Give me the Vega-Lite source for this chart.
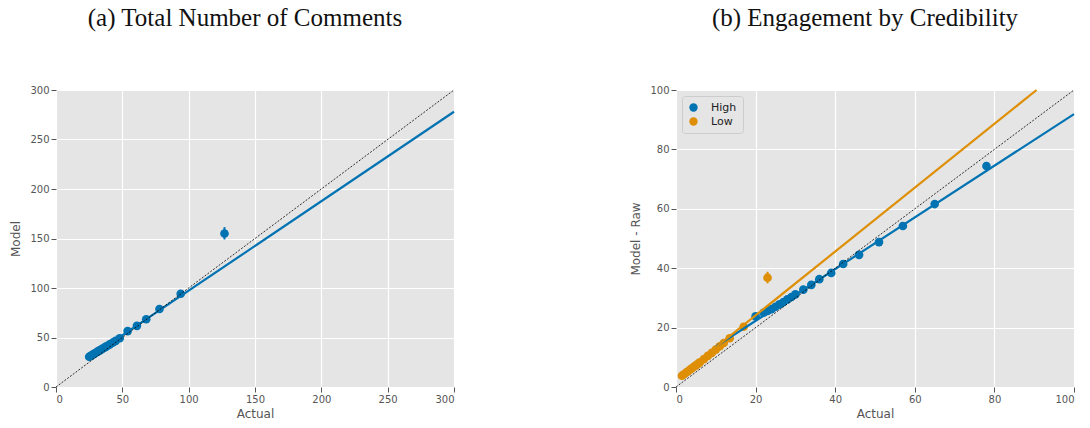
{
  "$schema": "https://vega.github.io/schema/vega-lite/v6.json",
  "padding": {"left": 9, "top": 6, "right": 0, "bottom": 0},
  "background": "white",
  "spacing": 170,
  "resolve": {"legend": {"color": "independent"}, "scale": {"color": "independent"}},
  "datasets": {
    "leftPts": [
      {"x": 25, "y": 30.5}, {"x": 26, "y": 31.3}, {"x": 27, "y": 32.1}, {"x": 28, "y": 33.0},
      {"x": 29, "y": 33.8}, {"x": 30, "y": 34.6}, {"x": 31, "y": 35.4}, {"x": 32, "y": 36.2},
      {"x": 33, "y": 37.0}, {"x": 34, "y": 37.8}, {"x": 35, "y": 38.6}, {"x": 36, "y": 39.4},
      {"x": 37, "y": 40.2}, {"x": 38, "y": 41.0}, {"x": 40, "y": 42.6}, {"x": 41, "y": 43.4},
      {"x": 43, "y": 45.0}, {"x": 45, "y": 46.6}, {"x": 48, "y": 49.2}, {"x": 54, "y": 56.5},
      {"x": 61, "y": 61.8}, {"x": 68, "y": 68.4}, {"x": 78, "y": 78.8}, {"x": 94, "y": 94.2},
      {"x": 127, "y": 155}
    ],
    "leftErr": [{"x": 127, "lo": 149, "hi": 161.5}],
    "leftFit": [{"x": 25, "y": 29.6}, {"x": 300, "y": 278}],
    "diagL": [{"x": 0, "y": 0}, {"x": 300, "y": 300}],
    "rightPts": [
      {"x": 20, "y": 23.8, "group": "High"}, {"x": 22, "y": 25.0, "group": "High"},
      {"x": 23, "y": 25.6, "group": "High"}, {"x": 24, "y": 26.2, "group": "High"},
      {"x": 25, "y": 27.0, "group": "High"}, {"x": 26, "y": 27.8, "group": "High"},
      {"x": 27, "y": 28.6, "group": "High"}, {"x": 28, "y": 29.5, "group": "High"},
      {"x": 29, "y": 30.3, "group": "High"}, {"x": 30, "y": 31.2, "group": "High"},
      {"x": 32, "y": 32.8, "group": "High"}, {"x": 34, "y": 34.4, "group": "High"},
      {"x": 36, "y": 36.3, "group": "High"}, {"x": 39, "y": 38.4, "group": "High"},
      {"x": 42, "y": 41.4, "group": "High"}, {"x": 46, "y": 44.5, "group": "High"},
      {"x": 51, "y": 48.8, "group": "High"}, {"x": 57, "y": 54.2, "group": "High"},
      {"x": 65, "y": 61.6, "group": "High"}, {"x": 78, "y": 74.4, "group": "High"},
      {"x": 1.5, "y": 3.8, "group": "Low"}, {"x": 2, "y": 4.3, "group": "Low"},
      {"x": 2.5, "y": 4.8, "group": "Low"}, {"x": 3, "y": 5.3, "group": "Low"},
      {"x": 3.5, "y": 5.8, "group": "Low"}, {"x": 4, "y": 6.3, "group": "Low"},
      {"x": 4.5, "y": 6.8, "group": "Low"}, {"x": 5, "y": 7.3, "group": "Low"},
      {"x": 5.5, "y": 7.8, "group": "Low"}, {"x": 6, "y": 8.3, "group": "Low"},
      {"x": 7, "y": 9.4, "group": "Low"}, {"x": 8, "y": 10.5, "group": "Low"},
      {"x": 9, "y": 11.5, "group": "Low"}, {"x": 10, "y": 12.6, "group": "Low"},
      {"x": 11, "y": 13.7, "group": "Low"}, {"x": 12, "y": 14.8, "group": "Low"},
      {"x": 13.5, "y": 16.4, "group": "Low"}, {"x": 17, "y": 20.3, "group": "Low"},
      {"x": 23, "y": 36.8, "group": "Low"}
    ],
    "rightErr": [{"x": 23, "lo": 34.9, "hi": 38.8}],
    "fitHigh": [{"x": 10, "y": 13.6}, {"x": 100, "y": 91.9}],
    "fitLow": [{"x": 1, "y": 3.7}, {"x": 90.6, "y": 100}],
    "diagR": [{"x": 0, "y": 0}, {"x": 100, "y": 100}]
  },
  "hconcat": [
    {
      "width": 398,
      "height": 297,
      "title": {"text": "(a) Total Number of Comments", "dx": -10},
      "layer": [
        {
          "data": {"name": "leftPts"},
          "mark": {"type": "circle", "size": 75, "opacity": 1, "color": "#0173b2"},
          "encoding": {
            "x": {"field": "x", "type": "quantitative", "scale": {"domain": [0, 300], "nice": false}, "axis": {"values": [0, 50, 100, 150, 200, 250, 300]}, "title": "Actual"},
            "y": {"field": "y", "type": "quantitative", "scale": {"domain": [0, 300], "nice": false}, "axis": {"values": [0, 50, 100, 150, 200, 250, 300]}, "title": "Model"}
          }
        },
        {
          "data": {"name": "leftErr"},
          "mark": {"type": "rule", "color": "#0173b2", "strokeWidth": 2},
          "encoding": {
            "x": {"field": "x", "type": "quantitative"},
            "y": {"field": "lo", "type": "quantitative"},
            "y2": {"field": "hi"}
          }
        },
        {
          "data": {"name": "leftFit"},
          "mark": {"type": "line", "color": "#0173b2", "strokeWidth": 2.2},
          "encoding": {
            "x": {"field": "x", "type": "quantitative"},
            "y": {"field": "y", "type": "quantitative"}
          }
        },
        {
          "data": {"name": "diagL"},
          "mark": {"type": "line", "color": "black", "strokeWidth": 0.8, "strokeDash": [2, 1.5]},
          "encoding": {
            "x": {"field": "x", "type": "quantitative"},
            "y": {"field": "y", "type": "quantitative"}
          }
        }
      ]
    },
    {
      "width": 398,
      "height": 297,
      "title": {"text": "(b) Engagement by Credibility", "dx": -10},
      "layer": [
        {
          "data": {"name": "rightPts"},
          "mark": {"type": "circle", "size": 75, "opacity": 1},
          "encoding": {
            "x": {"field": "x", "type": "quantitative", "scale": {"domain": [0, 100], "nice": false}, "axis": {"values": [0, 20, 40, 60, 80, 100]}, "title": "Actual"},
            "y": {"field": "y", "type": "quantitative", "scale": {"domain": [0, 100], "nice": false}, "axis": {"values": [0, 20, 40, 60, 80, 100]}, "title": "Model - Raw"},
            "color": {"field": "group", "type": "nominal", "scale": {"domain": ["High", "Low"], "range": ["#0173b2", "#de8f05"]}, "legend": {"title": null}},
            "order": {"field": "group", "sort": "ascending"}
          }
        },
        {
          "data": {"name": "rightErr"},
          "mark": {"type": "rule", "color": "#de8f05", "strokeWidth": 2},
          "encoding": {
            "x": {"field": "x", "type": "quantitative"},
            "y": {"field": "lo", "type": "quantitative"},
            "y2": {"field": "hi"}
          }
        },
        {
          "data": {"name": "fitHigh"},
          "mark": {"type": "line", "color": "#0173b2", "strokeWidth": 2.2},
          "encoding": {
            "x": {"field": "x", "type": "quantitative"},
            "y": {"field": "y", "type": "quantitative"}
          }
        },
        {
          "data": {"name": "fitLow"},
          "mark": {"type": "line", "color": "#de8f05", "strokeWidth": 2.2},
          "encoding": {
            "x": {"field": "x", "type": "quantitative"},
            "y": {"field": "y", "type": "quantitative"}
          }
        },
        {
          "data": {"name": "diagR"},
          "mark": {"type": "line", "color": "black", "strokeWidth": 0.8, "strokeDash": [2, 1.5]},
          "encoding": {
            "x": {"field": "x", "type": "quantitative"},
            "y": {"field": "y", "type": "quantitative"}
          }
        }
      ]
    }
  ],
  "config": {
    "view": {"fill": "#e5e5e5", "stroke": null},
    "title": {"font": "Liberation Serif", "fontSize": 25, "fontWeight": "normal", "color": "#111", "anchor": "middle", "frame": "group", "offset": 54},
    "axis": {
      "grid": true, "gridColor": "white", "gridWidth": 1.2,
      "domain": false, "tickColor": "#555", "tickSize": 5, "tickWidth": 1,
      "labelColor": "#555", "labelFont": "DejaVu Sans", "labelFontSize": 10, "labelPadding": 2,
      "titleColor": "#555", "titleFont": "DejaVu Sans", "titleFontSize": 12, "titleFontWeight": "normal"
    },
    "axisY": {"titlePadding": 7},
    "axisX": {"titlePadding": 4},
    "legend": {
      "orient": "top-left", "offset": 6, "fillColor": "#e5e5e5", "strokeColor": "#cccccc",
      "padding": 6, "cornerRadius": 3, "symbolType": "circle", "symbolSize": 70,
      "labelFont": "DejaVu Sans", "labelFontSize": 11, "labelColor": "#222", "rowPadding": 2, "labelOffset": 12
    }
  }
}
